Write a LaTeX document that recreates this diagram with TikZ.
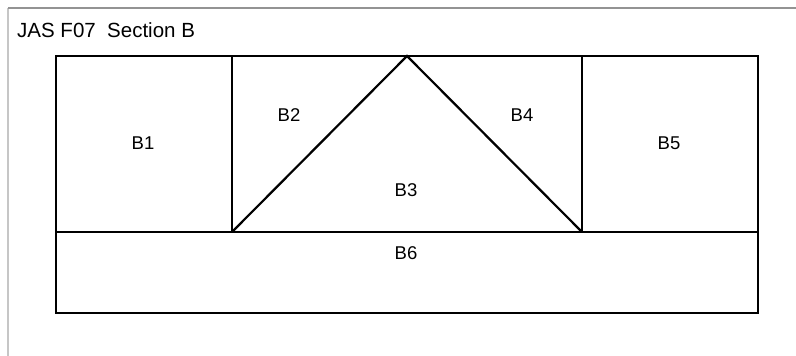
\documentclass[tikz,border=0pt]{standalone}
\usepackage{fontspec}
\setmainfont{Liberation Sans}
\begin{document}
\begin{tikzpicture}[x=1pt,y=-1pt,
  part/.style={draw=black,line width=2.2pt,line join=miter},
  lbl/.style={font=\fontsize{18.5}{20}\selectfont,inner sep=0pt},
  frameline/.style={line width=1.2pt}]
\useasboundingbox (0,0) rectangle (796,356);
\fill[white] (0,0) rectangle (796,356);
\coordinate (f0) at (8,8);
\coordinate (f1) at (8,356);
\coordinate (f2) at (796,8);
\draw[frameline,draw=gray!45] (f1) -- (f0);
\draw[frameline,draw=gray!85] (f0) -- (f2);
\node[anchor=base west,inner sep=0pt,font=\fontsize{20.5}{22}\selectfont] (title) at (17,37) {JAS F07\ \ Section B};
% corners
\coordinate (tl) at (56,56);
\coordinate (tr) at (758,56);
\coordinate (bl) at (56,313);
\coordinate (br) at (758,313);
\coordinate (ml) at (56,232);
\coordinate (mr) at (758,232);
\coordinate (a) at (232,56);
\coordinate (b) at (582,56);
\coordinate (c) at (232,232);
\coordinate (d) at (582,232);
\coordinate (apex) at (407,56);
\draw[part] (tl) -- (tr) -- (br) -- (bl) -- cycle;
\draw[part] (ml) -- (mr);
\draw[part] (a) -- (c);
\draw[part] (b) -- (d);
\draw[part] (c) -- (apex) -- (d);
\node[lbl] (B1) at (143,143) {B1};
\node[lbl] (B2) at (289,115) {B2};
\node[lbl] (B3) at (406,190) {B3};
\node[lbl] (B4) at (522,115) {B4};
\node[lbl] (B5) at (669,143) {B5};
\node[lbl] (B6) at (406,253) {B6};
\end{tikzpicture}
\end{document}
